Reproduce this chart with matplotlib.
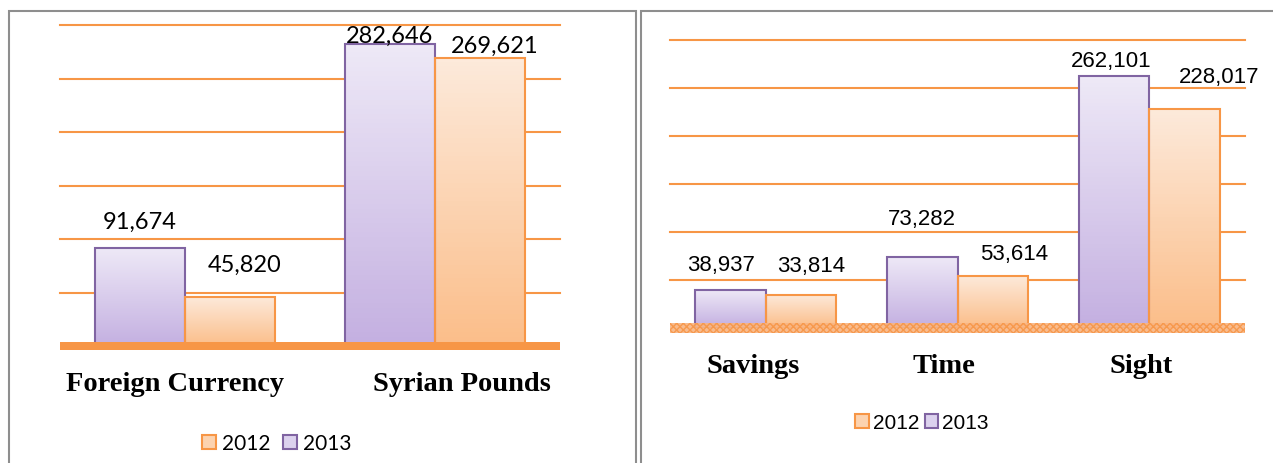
import numpy as np
import matplotlib.pyplot as plt
from matplotlib.patches import Rectangle, Patch
from matplotlib.colors import to_rgb
import matplotlib.transforms as mtransforms

# Data
left_cats = ['Foreign Currency', 'Syrian Pounds']
left_2013 = [91674, 282646]
left_2012 = [45820, 269621]

right_cats = ['Savings', 'Time', 'Sight']
right_2013 = [38937, 73282, 262101]
right_2012 = [33814, 53614, 228017]

years = ['2012', '2013']

# Styles
purple_top, purple_bot, purple_edge = '#EEE9F7', '#C4B0E1', '#8064A2'
orange_top, orange_bot, orange_edge = '#FDEADB', '#FBBE8A', '#F79646'
grid_col = '#F79646'

W, H = 1273, 464
fig = plt.figure(figsize=(W / 100, H / 100), dpi=100)


def px_axes(x0, x1, y_top, y_bot):
    return fig.add_axes([x0 / W, (H - y_bot) / H, (x1 - x0) / W, (y_bot - y_top) / H])


def gradient_bars(ax, bars, top, bot, edge):
    c1, c2 = np.array(to_rgb(top)), np.array(to_rgb(bot))
    t = np.linspace(0, 1, 64)[:, None]
    img = (c1 * (1 - t) + c2 * t)[:, None, :]
    for b in bars:
        x, w, h = b.get_x(), b.get_width(), b.get_height()
        im = ax.imshow(img, extent=[x, x + w, 0, h], origin='upper', aspect='auto', zorder=2)
        im.set_clip_path(b)
        b.set_facecolor('none')
        b.set_edgecolor(edge)
        b.set_linewidth(1.5)
        b.set_zorder(3)


def draw_panel(ax, cats, v13, v12, width, lbl_font, lbl_size, lbl_off, cat_off, cat_dy, band):
    x = np.arange(len(cats))
    for g in np.arange(50000, 300001, 50000):
        ax.axhline(g, color=grid_col, lw=1.5, zorder=1, clip_on=False)
    b13 = ax.bar(x - width / 2, v13, width)
    b12 = ax.bar(x + width / 2, v12, width)
    gradient_bars(ax, b13, purple_top, purple_bot, purple_edge)
    gradient_bars(ax, b12, orange_top, orange_bot, orange_edge)
    ax.set_xlim(-0.5, len(cats) - 0.5)
    ax.set_ylim(0, 300000)
    ax.axis('off')

    bars = list(b13) + list(b12)
    vals = list(v13) + list(v12)
    for b, v, (dx, dy) in zip(bars, vals, lbl_off):
        ax.annotate(f'{v:,}', (b.get_x() + b.get_width() / 2, v), xytext=(dx, dy),
                    textcoords='offset pixels', ha='center', va='center',
                    fontsize=lbl_size, family=lbl_font, zorder=5)
    for i, (c, dx) in enumerate(zip(cats, cat_off)):
        ax.annotate(c, (i, 0), xytext=(dx, -cat_dy), textcoords='offset pixels',
                    ha='center', va='center', fontsize=20.5, fontweight='bold',
                    family='Liberation Serif')

    trans = mtransforms.blended_transform_factory(ax.transAxes, ax.transData)
    upp = 300000 / (ax.get_window_extent().height)
    if band == 'solid':
        ax.add_patch(Rectangle((0, -4 * upp), 1, 8 * upp, transform=trans, facecolor='#F79646',
                               edgecolor='none', clip_on=False, zorder=4))
    else:
        ax.add_patch(Rectangle((0, -5 * upp), 1, 10 * upp, transform=trans, facecolor='#F8B584',
                               edgecolor='#F79646', hatch='xxxxx', lw=0, clip_on=False,
                               zorder=4, alpha=0.9))


# Left panel
axl = px_axes(60, 560, 26, 347)
draw_panel(axl, left_cats, left_2013, left_2012, 0.36, 'Lato', 17,
           [(0, 27), (0, 8), (15, 33), (15, 12)], [-10, 27], 38, 'solid')

# Right panel
axr = px_axes(670, 1245, 40.5, 328.5)
draw_panel(axr, right_cats, right_2013, right_2012, 0.367, 'Liberation Sans', 16,
           [(-10, 26), (0, 39), (-3, 15), (10, 30), (21, 23), (35, 32)],
           [-13, -14, -8], 38, 'hatch')

# Legends
handles = [Patch(facecolor='#FCD3B0', edgecolor=orange_edge, lw=1.5),
           Patch(facecolor='#DCD2EE', edgecolor=purple_edge, lw=1.5)]
fig.legend(handles, years, loc='center', bbox_to_anchor=(277 / W, (H - 444) / H), ncol=2,
           frameon=False, prop={'family': 'Lato', 'size': 15}, handlelength=0.65,
           handleheight=0.65, handletextpad=0.3, columnspacing=0.6)
fig.legend(handles, years, loc='center', bbox_to_anchor=(922 / W, (H - 424) / H), ncol=2,
           frameon=False, prop={'family': 'Liberation Sans', 'size': 15}, handlelength=0.65,
           handleheight=0.65, handletextpad=0.2, columnspacing=0.25)

# Panel borders
for x0, x1 in [(8.5, 636), (641, 1290)]:
    fig.patches.append(Rectangle((x0 / W, -0.1), (x1 - x0) / W, (H - 11.5) / H + 0.1,
                                 transform=fig.transFigure, facecolor='none',
                                 edgecolor='#8E8E8E', lw=1.5))

fig.savefig('out.png', dpi=100)
